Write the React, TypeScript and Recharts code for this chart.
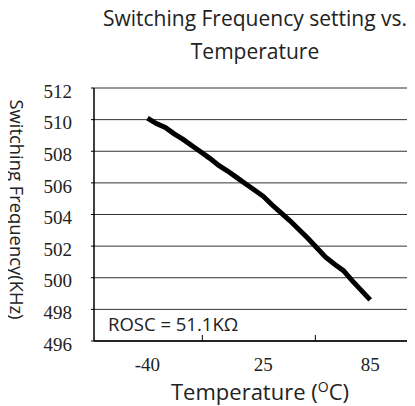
import { LineChart, Line, XAxis, YAxis, CartesianGrid, Label } from 'recharts'

// temperature (°C) and switching frequency (kHz)
const temps = [-40, -35, -30, -25, -20, -15, -10, -5, 0, 5, 10, 15, 20, 25, 30, 35, 40, 45, 50, 55, 60, 65, 70, 75, 80, 85]
const freqs = [510.1, 509.75, 509.5, 509.1, 508.75, 508.35, 507.95, 507.55, 507.1, 506.75, 506.35, 505.95, 505.55, 505.15, 504.6, 504.1, 503.6, 503.05, 502.5, 501.9, 501.3, 500.85, 500.45, 499.8, 499.2, 498.6]

const tempLabels = [-40, 25, 85]
const tempMarks = [-9.2, 54.2]   // small tick marks between the labels
const freqTicks = [496, 498, 500, 502, 504, 506, 508, 510, 512]

const data = temps.map((t, i) => ({ t, f: freqs[i] }))

const SANS = '"Open Sans", sans-serif'
const SERIF = '"Liberation Serif", serif'

function TempTick({ x, y, payload }: { x: number; y: number; payload: { value: number } }) {
  if (tempMarks.includes(payload.value)) {
    return <line x1={x} y1={y} x2={x} y2={y - 6} stroke="#000" strokeWidth={1} />
  }
  return (
    <text x={x} y={y + 30} textAnchor="middle" fontFamily={SERIF} fontSize={19} fill="#222">
      {payload.value}
    </text>
  )
}

function FreqTick({ x, y, payload }: { x: number; y: number; payload: { value: number } }) {
  return (
    <text x={x} y={y + 3} dy="0.355em" textAnchor="end" fontFamily={SERIF} fontSize={19} fill="#222">
      {payload.value}
    </text>
  )
}

export default function App() {
  return (
    <div style={{ position: 'relative', width: 407, height: 398 }}>
      <div style={{ position: 'absolute', left: -8, top: -8, width: 415, height: 406, overflow: 'hidden' }}>
        <div style={{ position: 'absolute', left: 75, top: 2, width: 360, textAlign: 'center', whiteSpace: 'nowrap', fontFamily: SANS, fontSize: 21, lineHeight: '33px', color: '#222' }}>
          Switching Frequency setting vs.<br />Temperature
        </div>
        <LineChart width={448} height={406} data={data} margin={{ top: 88, right: 19, bottom: 0, left: 0 }}>
          <CartesianGrid vertical={false} stroke="#333" strokeWidth={1} />
          <XAxis dataKey="t" type="number" domain={[-70, 118]} ticks={[...tempLabels, ...tempMarks].sort((a, b) => a - b)}
            interval={0} tickLine={false} tickSize={0} tickMargin={0} height={65}
            axisLine={{ stroke: '#000', strokeWidth: 1.5 }} tick={TempTick as any} />
          <YAxis type="number" domain={[496, 512]} ticks={freqTicks} width={94} tickSize={3} tickMargin={19}
            axisLine={{ stroke: '#000', strokeWidth: 1.5 }} tickLine={{ stroke: '#000' }}
            tick={FreqTick as any}>
            <Label content={({ viewBox }: any) => {
              const cx = viewBox.x + 17.5
              const cy = viewBox.y + viewBox.height / 2 - 5
              return (
                <text x={cx} y={cy} textAnchor="middle" dominantBaseline="central" transform={`rotate(90, ${cx}, ${cy})`}
                  fontFamily={SANS} fontSize={18.4} fill="#222">
                  Switching Frequency(KHz)
                </text>
              )
            }} />
          </YAxis>
          <Line type="linear" dataKey="f" stroke="#000" strokeWidth={5} dot={false} isAnimationActive={false} />
        </LineChart>
        <div style={{ position: 'absolute', left: 108, top: 311, fontFamily: SANS, fontSize: 18.5, lineHeight: '25px', color: '#222', whiteSpace: 'nowrap' }}>
          ROSC = 51.1KΩ
        </div>
        <div style={{ position: 'absolute', left: 150, top: 376, width: 220, textAlign: 'center', whiteSpace: 'nowrap', fontFamily: SANS, fontSize: 22, lineHeight: '30px', color: '#222' }}>
          Temperature (<span style={{ fontSize: 14, position: 'relative', top: -8 }}>O</span>C)
        </div>
      </div>
    </div>
  )
}
